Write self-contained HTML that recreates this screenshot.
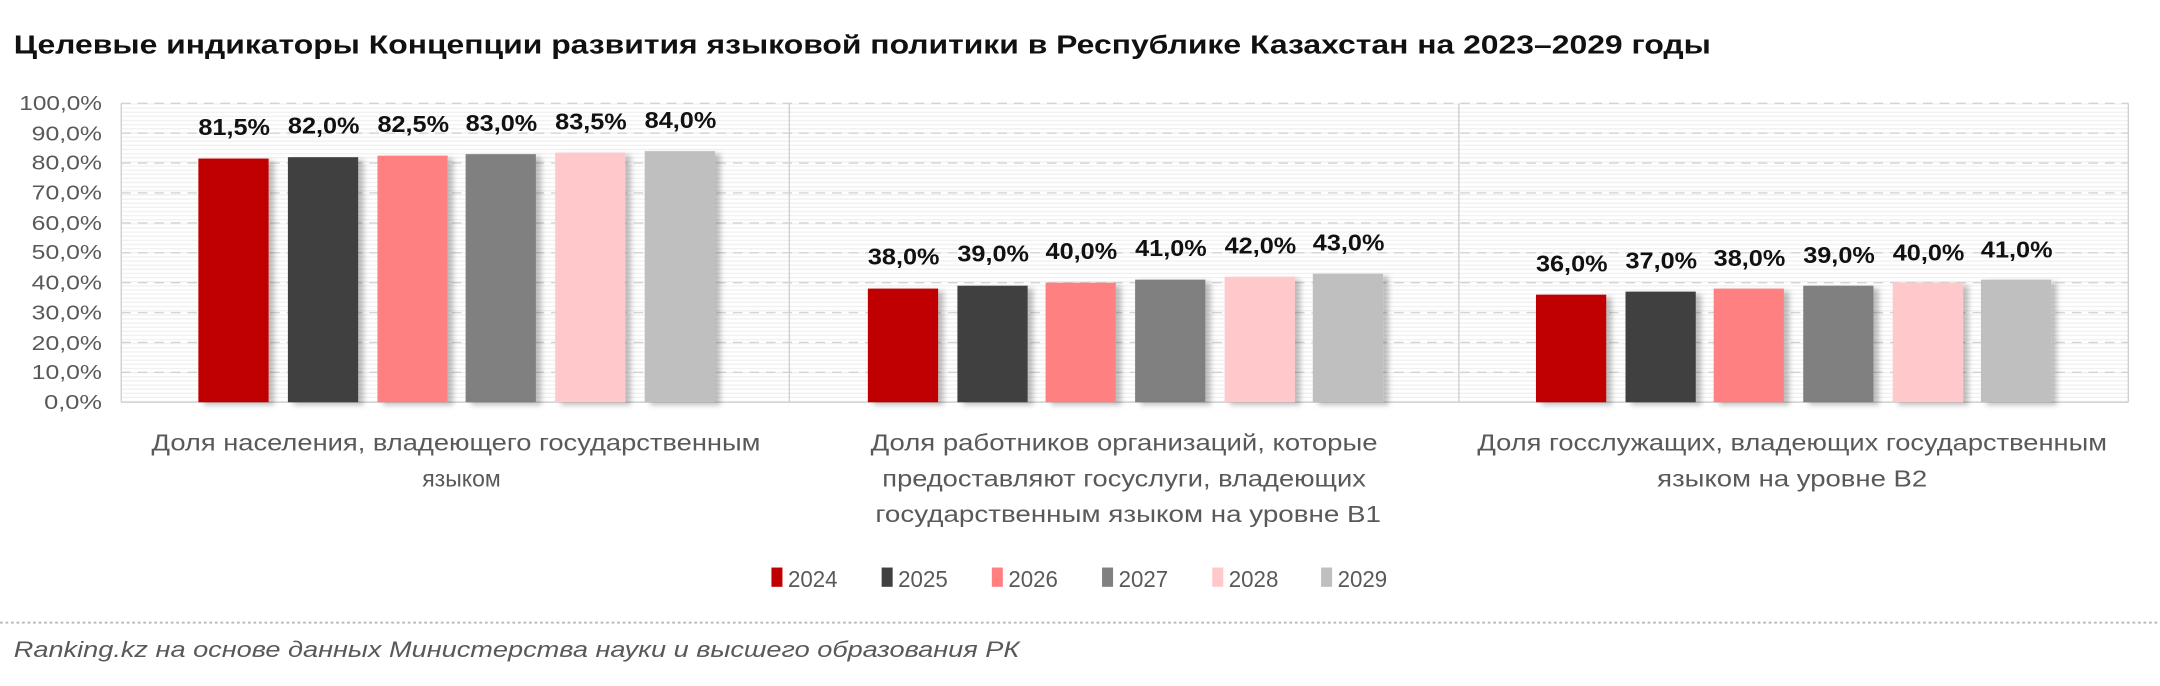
<!DOCTYPE html>
<html><head><meta charset="utf-8"><style>
html,body{margin:0;padding:0;background:#fff;width:2160px;height:686px;overflow:hidden}
svg{display:block}
text{font-family:"Liberation Sans","DejaVu Sans",sans-serif}
</style></head><body>
<svg width="2160" height="686" viewBox="0 0 1568 498" preserveAspectRatio="none" xmlns="http://www.w3.org/2000/svg">
<defs>
<pattern id="st" width="4" height="3" patternUnits="userSpaceOnUse"><rect width="4" height="3" fill="#fff"/><rect width="4" height="1" fill="#f1f1f1"/></pattern>
<filter id="sh" x="-20%" y="-10%" width="150%" height="120%"><feDropShadow dx="4" dy="2" stdDeviation="2" flood-color="#000" flood-opacity="0.25"/></filter>
</defs>
<text x="10" y="39" font-size="19" font-weight="bold" fill="#111" textLength="1232" lengthAdjust="spacingAndGlyphs">Целевые индикаторы Концепции развития языковой политики в Республике Казахстан на 2023–2029 годы</text>
<rect x="88" y="75" width="1457" height="217" fill="url(#st)"/>
<g stroke="#d4d4d4" stroke-width="1" stroke-dasharray="7,5">
<line x1="88" x2="1545" y1="75" y2="75"/><line x1="88" x2="1545" y1="96.7" y2="96.7"/><line x1="88" x2="1545" y1="118.4" y2="118.4"/><line x1="88" x2="1545" y1="140.1" y2="140.1"/><line x1="88" x2="1545" y1="161.8" y2="161.8"/><line x1="88" x2="1545" y1="183.5" y2="183.5"/><line x1="88" x2="1545" y1="205.2" y2="205.2"/><line x1="88" x2="1545" y1="226.9" y2="226.9"/><line x1="88" x2="1545" y1="248.6" y2="248.6"/><line x1="88" x2="1545" y1="270.3" y2="270.3"/>
</g>
<g stroke="#d0d0d0" fill="none"><line x1="88" x2="88" y1="75" y2="292"/><line x1="573" x2="573" y1="75" y2="292"/><line x1="1059" x2="1059" y1="75" y2="292"/><line x1="1545" x2="1545" y1="75" y2="292"/><line x1="88" x2="1545" y1="292" y2="292"/></g>
<g font-size="15" fill="#595959" text-anchor="end" lengthAdjust="spacingAndGlyphs">
<text x="74" y="80" textLength="60" lengthAdjust="spacingAndGlyphs">100,0%</text><text x="74" y="102" textLength="51" lengthAdjust="spacingAndGlyphs">90,0%</text><text x="74" y="123" textLength="51" lengthAdjust="spacingAndGlyphs">80,0%</text><text x="74" y="145" textLength="51" lengthAdjust="spacingAndGlyphs">70,0%</text><text x="74" y="167" textLength="51" lengthAdjust="spacingAndGlyphs">60,0%</text><text x="74" y="188" textLength="51" lengthAdjust="spacingAndGlyphs">50,0%</text><text x="74" y="210" textLength="51" lengthAdjust="spacingAndGlyphs">40,0%</text><text x="74" y="232" textLength="51" lengthAdjust="spacingAndGlyphs">30,0%</text><text x="74" y="254" textLength="51" lengthAdjust="spacingAndGlyphs">20,0%</text><text x="74" y="275" textLength="51" lengthAdjust="spacingAndGlyphs">10,0%</text><text x="74" y="297" textLength="42" lengthAdjust="spacingAndGlyphs">0,0%</text>
</g>
<g filter="url(#sh)">
<rect x="144" y="115.1" width="51" height="176.9" fill="#c00000"/>
<rect x="209" y="114.1" width="51" height="177.9" fill="#404040"/>
<rect x="274" y="113" width="51" height="179" fill="#ff8080"/>
<rect x="338" y="111.9" width="51" height="180.1" fill="#808080"/>
<rect x="403" y="110.8" width="51" height="181.2" fill="#ffc9cb"/>
<rect x="468" y="109.7" width="51" height="182.3" fill="#bfbfbf"/>
<rect x="630" y="209.5" width="51" height="82.5" fill="#c00000"/>
<rect x="695" y="207.4" width="51" height="84.6" fill="#404040"/>
<rect x="759" y="205.2" width="51" height="86.8" fill="#ff8080"/>
<rect x="824" y="203" width="51" height="89" fill="#808080"/>
<rect x="889" y="200.9" width="51" height="91.1" fill="#ffc9cb"/>
<rect x="953" y="198.7" width="51" height="93.3" fill="#bfbfbf"/>
<rect x="1115" y="213.9" width="51" height="78.1" fill="#c00000"/>
<rect x="1180" y="211.7" width="51" height="80.3" fill="#404040"/>
<rect x="1244" y="209.5" width="51" height="82.5" fill="#ff8080"/>
<rect x="1309" y="207.4" width="51" height="84.6" fill="#808080"/>
<rect x="1374" y="205.2" width="51" height="86.8" fill="#ffc9cb"/>
<rect x="1438" y="203" width="51" height="89" fill="#bfbfbf"/>
</g>
<g font-size="17" font-weight="bold" fill="#111" text-anchor="middle">
<text x="170" y="98" textLength="52" lengthAdjust="spacingAndGlyphs">81,5%</text><text x="235" y="97" textLength="52" lengthAdjust="spacingAndGlyphs">82,0%</text><text x="300" y="96" textLength="52" lengthAdjust="spacingAndGlyphs">82,5%</text><text x="364" y="95" textLength="52" lengthAdjust="spacingAndGlyphs">83,0%</text><text x="429" y="94" textLength="52" lengthAdjust="spacingAndGlyphs">83,5%</text><text x="494" y="93" textLength="52" lengthAdjust="spacingAndGlyphs">84,0%</text>
<text x="656" y="192" textLength="52" lengthAdjust="spacingAndGlyphs">38,0%</text><text x="721" y="190" textLength="52" lengthAdjust="spacingAndGlyphs">39,0%</text><text x="785" y="188" textLength="52" lengthAdjust="spacingAndGlyphs">40,0%</text><text x="850" y="186" textLength="52" lengthAdjust="spacingAndGlyphs">41,0%</text><text x="915" y="184" textLength="52" lengthAdjust="spacingAndGlyphs">42,0%</text><text x="979" y="182" textLength="52" lengthAdjust="spacingAndGlyphs">43,0%</text>
<text x="1141" y="197" textLength="52" lengthAdjust="spacingAndGlyphs">36,0%</text><text x="1206" y="195" textLength="52" lengthAdjust="spacingAndGlyphs">37,0%</text><text x="1270" y="193" textLength="52" lengthAdjust="spacingAndGlyphs">38,0%</text><text x="1335" y="191" textLength="52" lengthAdjust="spacingAndGlyphs">39,0%</text><text x="1400" y="189" textLength="52" lengthAdjust="spacingAndGlyphs">40,0%</text><text x="1464" y="187" textLength="52" lengthAdjust="spacingAndGlyphs">41,0%</text>
</g>
<g font-size="17" fill="#595959" text-anchor="middle">
<text x="331" y="327" textLength="442" lengthAdjust="spacingAndGlyphs">Доля населения, владеющего государственным</text><text x="335" y="353" textLength="57" lengthAdjust="spacingAndGlyphs">языком</text>
<text x="816" y="327" textLength="368" lengthAdjust="spacingAndGlyphs">Доля работников организаций, которые</text><text x="816" y="353" textLength="351" lengthAdjust="spacingAndGlyphs">предоставляют госуслуги, владеющих</text><text x="819" y="379" textLength="367" lengthAdjust="spacingAndGlyphs">государственным языком на уровне B1</text>
<text x="1301" y="327" textLength="457" lengthAdjust="spacingAndGlyphs">Доля госслужащих, владеющих государственным</text><text x="1301" y="353" textLength="196" lengthAdjust="spacingAndGlyphs">языком на уровне B2</text>
</g>
<g font-size="17" fill="#595959">
<rect x="560" y="412" width="8" height="14" fill="#c00000"/><text x="572" y="426" textLength="36" lengthAdjust="spacingAndGlyphs">2024</text>
<rect x="640" y="412" width="8" height="14" fill="#404040"/><text x="652" y="426" textLength="36" lengthAdjust="spacingAndGlyphs">2025</text>
<rect x="720" y="412" width="8" height="14" fill="#ff8080"/><text x="732" y="426" textLength="36" lengthAdjust="spacingAndGlyphs">2026</text>
<rect x="800" y="412" width="8" height="14" fill="#808080"/><text x="812" y="426" textLength="36" lengthAdjust="spacingAndGlyphs">2027</text>
<rect x="880" y="412" width="8" height="14" fill="#ffc9cb"/><text x="892" y="426" textLength="36" lengthAdjust="spacingAndGlyphs">2028</text>
<rect x="959" y="412" width="8" height="14" fill="#bfbfbf"/><text x="971" y="426" textLength="36" lengthAdjust="spacingAndGlyphs">2029</text>
</g>
<line x1="0" x2="1568" y1="452" y2="452" stroke="#bbb" stroke-width="1.5" stroke-dasharray="2,2"/>
<text x="10" y="477" font-size="16" font-style="italic" fill="#595959" textLength="730" lengthAdjust="spacingAndGlyphs">Ranking.kz на основе данных Министерства науки и высшего образования РК</text>
</svg>
</body></html>
